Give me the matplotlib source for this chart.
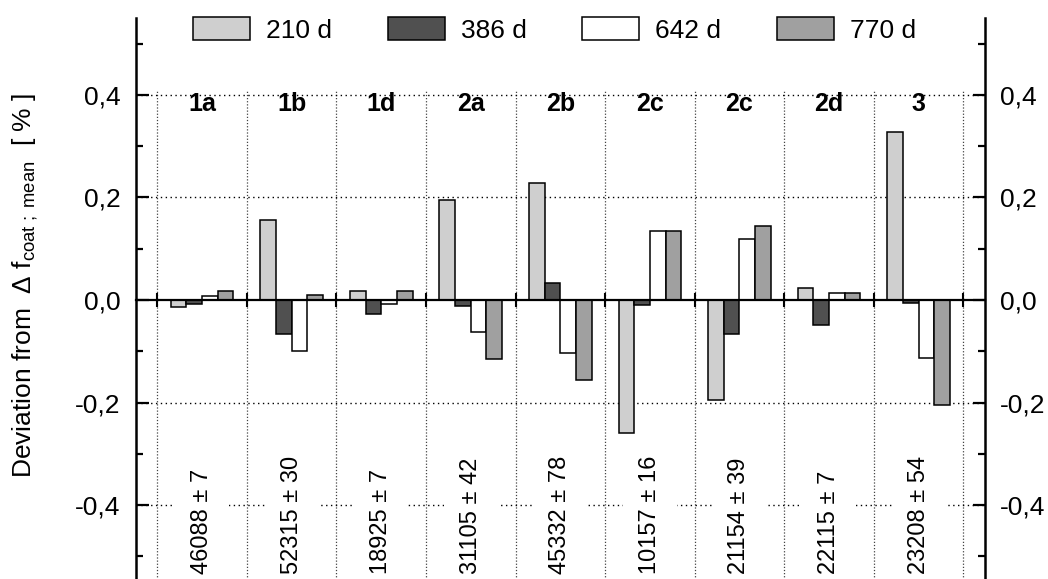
import numpy as np
import matplotlib
matplotlib.use('Agg')
import matplotlib.pyplot as plt
from matplotlib.patches import Rectangle
from matplotlib.ticker import FixedLocator, FuncFormatter

plt.rcParams['font.family'] = ['Liberation Sans', 'DejaVu Sans']
plt.rcParams['mathtext.fontset'] = 'custom'
plt.rcParams['mathtext.rm'] = 'Liberation Sans'
plt.rcParams['mathtext.it'] = 'Liberation Sans:italic'

# Data
samples = ['1a', '1b', '1d', '2a', '2b', '2c', '2c', '2d', '3']
freqs = ['46088 ± 7', '52315 ± 30', '18925 ± 7', '31105 ± 42', '45332 ± 78',
         '10157 ± 16', '21154 ± 39', '22115 ± 7', '23208 ± 54']
series = ['210 d', '386 d', '642 d', '770 d']
v210 = [-0.013, 0.157, 0.018, 0.195, 0.228, -0.260, -0.195, 0.024, 0.328]
v386 = [-0.008, -0.066, -0.027, -0.011, 0.034, -0.009, -0.066, -0.049, -0.006]
v642 = [0.007, -0.100, -0.007, -0.062, -0.104, 0.135, 0.118, 0.013, -0.114]
v770 = [0.018, 0.010, 0.018, -0.116, -0.156, 0.135, 0.144, 0.013, -0.204]
colors = ['#cfcfcf', '#505050', '#ffffff', '#a0a0a0']

x = np.arange(1, len(samples) + 1)
w = 0.175

fig = plt.figure(figsize=(10.48, 5.79), dpi=100)
ax = fig.add_axes([136 / 1048, -3 / 579, 849 / 1048, 564 / 579])

handles = []
for i, vals in enumerate([v210, v386, v642, v770]):
    b = ax.bar(x + (i - 1.5) * w, vals, width=w, color=colors[i],
               edgecolor='black', linewidth=1.1, label=series[i], zorder=2)
    handles.append(b)

ax.set_xlim(0.262, 9.742)
ax.set_ylim(-0.55, 0.55)

# dotted grid
bounds = np.arange(0.5, len(samples) + 1, 1.0)
ax.vlines(bounds, -0.55, 0.41, colors='#444444', linestyles=(0, (1, 1.5)),
          linewidth=0.9, zorder=1)
ax.hlines([-0.4, -0.2, 0.2, 0.4], 0.262, 9.742, colors='black',
          linestyles=(0, (1, 2.5)), linewidth=1.0, zorder=1)

# spines
ax.spines['top'].set_visible(False)
ax.spines['bottom'].set_position(('data', 0))
ax.spines['bottom'].set_linewidth(1.6)
ax.spines['bottom'].set_zorder(3)
ax.spines['left'].set_linewidth(1.8)
ax.spines['right'].set_linewidth(1.8)

ax.xaxis.set_major_locator(FixedLocator(bounds))
ax.tick_params(axis='x', direction='inout', length=9.5, width=1.5,
               labelbottom=False)

ax.yaxis.set_major_locator(FixedLocator([-0.4, -0.2, 0.0, 0.2, 0.4]))
ax.yaxis.set_minor_locator(FixedLocator([-0.5, -0.3, -0.1, 0.1, 0.3, 0.5]))
ax.yaxis.set_major_formatter(FuncFormatter(lambda v, p: f'{v:.1f}'.replace('.', ',').replace('-0,0', '0,0')))
ax.yaxis.set_ticks_position('both')
ax.tick_params(axis='y', which='major', direction='in', length=9, width=1.6,
               labelsize=19, pad=11, labelleft=True, labelright=True)
ax.tick_params(axis='y', which='minor', direction='in', length=5, width=1.6)

for xi, s, f in zip(x, samples, freqs):
    ax.text(xi, 0.382, s, ha='center', va='center', fontsize=18,
            fontweight='bold', zorder=4)
    # white gap in the -0,4 grid line behind the frequency label
    ax.add_patch(Rectangle((xi - 0.3, -0.41), 0.6, 0.02, facecolor='white',
                           edgecolor='none', zorder=1.5))
    ax.text(xi, -0.535, f, ha='center', va='bottom', rotation=90,
            fontsize=17, zorder=4)

fig.text(25 / 1048, 1 - 285 / 579,
         'Deviation from  Δ f$_{\\mathrm{coat\\ ;\\ mean}}$  [ % ]',
         rotation=90, ha='center', va='center', fontsize=19)

fig.legend(handles=handles, labels=series, loc='center left',
           bbox_to_anchor=(193 / 1048, 1 - 30 / 579), ncol=4, frameon=False,
           fontsize=19, handlelength=2.16, handleheight=0.98,
           handletextpad=0.6, columnspacing=2.12, borderpad=0,
           borderaxespad=0)

fig.savefig('out.png', dpi=100)
